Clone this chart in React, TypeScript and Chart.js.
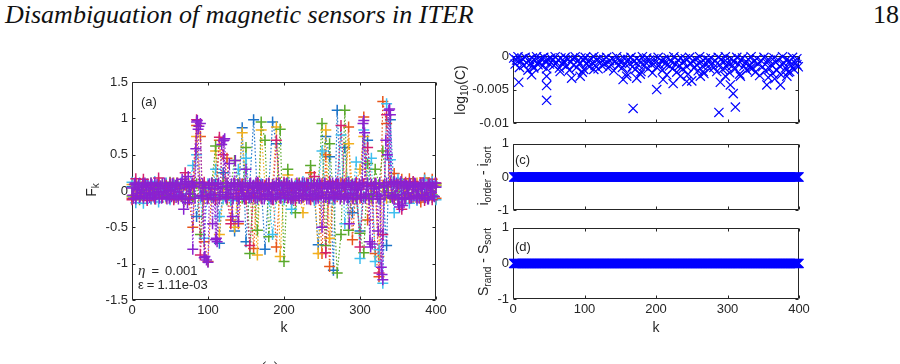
import React, { useEffect, useRef } from "react";
import { Chart, registerables } from "chart.js";

Chart.register(...registerables);

// ---------- panel (a): F_k for each run ----------
// the six lower runs are sampled every 5 in k, the two purple runs every 2 (even / odd k)
const kGrid = Array.from({ length: 81 }, (_, i) => i * 5);
const kEven = Array.from({ length: 201 }, (_, i) => i * 2);
const kOdd = Array.from({ length: 200 }, (_, i) => 1 + i * 2);

const fBlue = [
  0.06, -0.09, 0.11, -0.05, 0.08, -0.11, 0.04, 0.1, -0.07, 0.03,
  -0.1, 0.07, 0.05, -0.08, 0.11, -0.04, 0.09, -0.35, 0.06, -0.07,
  0.08, -0.06, 0.1, -0.72, 0.25, 0.05, -0.09, -0.55, -0.11, 0.87,
  -0.7, 0.08, 0.98, -0.06, 0.09, -0.8, 0.05, 0.95, 0.65, -0.07,
  0.1, -0.05, 0.07, -0.1, 0.04, 0.09, -0.06, 0.11, -0.08, -0.74,
  0.06, 0.75, 0.47, -1.09, 1.11, -0.05, 0.6, -0.09, -0.3, -0.1,
  -0.55, -0.08, 0.7, -0.06, 0.1, -0.11, 0.04, -0.75, 0.98, -0.07,
  0.11, -0.05, 0.09, -0.1, 0.06, -0.08, 0.1, -0.04, 0.08, -0.09,
  0.07,
];
const fOrange = [
  -0.1, 0.07, -0.05, 0.12, -0.08, 0.04, -0.11, 0.09, -0.06, 0.1,
  0.05, -0.09, 0.11, -0.07, 0.08, -0.12, -0.5, 0.9, 0.75, -0.7,
  -0.97, 0.08, -0.1, 0.7, -0.05, 0.45, -0.4, 0.1, -0.45, 0.09,
  -0.11, 0.06, -0.79, 0.1, -0.06, 0.08, -0.1, 0.05, -0.77, 0.11,
  -0.08, 0.07, -0.12, 0.05, 0.1, -0.09, 0.06, 0.25, -0.11, 0.08,
  -0.86, 0.5, -1.04, 0.07, -0.08, 0.11, -0.06, 0.88, -0.67, 0.09,
  -0.1, 1.02, -0.4, 0.07, -0.86, -1.18, 1.23, 0.93, -0.09, 0.24,
  -0.12, 0.16, -0.07, 0.17, -0.1, 0.06, -0.15, 0.18, -0.08, 0.16,
  -0.1,
];
const fYellow = [
  0.09, -0.06, 0.1, -0.11, 0.05, 0.08, -0.09, 0.12, -0.04, -0.1,
  0.07, 0.11, -0.08, 0.06, -0.12, 0.1, 0.04, 0.75, 0.09, -0.11,
  0.06, -0.1, 0.55, -0.6, -0.06, 0.11, -0.09, -0.5, 0.07, 0.8,
  -0.08, 0.1, -0.05, -0.88, 0.84, 0.07, -0.1, 0.06, 0.88, -0.9,
  0.08, 0.22, -0.07, 0.1, -0.09, -0.3, 0.05, -0.11, 0.09, -0.86,
  0.07, 0.84, -0.65, 0.06, 0.11, -0.08, 0.09, 0.65, 0.05, 0.1,
  0.3, 0.75, 0.07, -0.11, 0.1, -0.9, 0.08, -0.1, 0.12, -0.07,
  0.09, -0.11, 0.06, 0.1, -0.08, 0.11, -0.05, -0.09, 0.1, 0.07,
  0.08,
];
const fGreen = [
  -0.07, 0.1, -0.12, 0.06, -0.09, 0.11, 0.05, -0.08, 0.1, -0.06,
  0.12, -0.1, 0.07, 0.09, -0.11, 0.06, -0.08, 0.1, -0.6, 0.08,
  -0.09, 0.11, 0.62, -0.07, 0.1, -0.12, 0.06, 0.42, 0.09, -0.1,
  0.6, -0.86, 0.07, -0.54, 0.95, 0.7, -0.63, 0.09, -0.1, 0.85,
  -0.97, 0.3, -0.08, -0.3, 0.11, -0.07, 0.08, 0.35, -0.1, 0.07,
  0.93, -0.75, 0.65, -0.09, -1.13, -0.6, 1.11, -0.54, 0.1, -0.08,
  -0.58, -0.85, 0.38, -0.07, 0.3, 0.09, 0.55, 0.06, -0.09, 0.12,
  -0.06, 0.1, -0.11, 0.08, 0.12, -0.09, 0.07, -0.1, 0.11, -0.05,
  0.1,
];
const fCyan = [
  0.12, -0.16, 0.08, -0.17, 0.1, -0.07, 0.13, -0.15, 0.06, 0.11,
  -0.12, 0.09, -0.06, 0.12, -0.1, 0.07, 0.35, 0.5, -0.09, -0.65,
  0.1, -0.08, 0.3, -0.35, -0.11, 0.07, -0.13, 0.09, 0.3, -0.06,
  0.45, -0.1, 0.08, -0.12, 0.1, 0.06, -0.11, -0.6, -0.07, 0.09,
  -0.12, 0.11, -0.25, 0.08, -0.1, 0.13, -0.06, 0.1, -0.13, 0.07,
  0.55, -0.09, 0.11, -0.12, 0.08, 0.77, -0.45, 0.13, -0.07, 0.4,
  -0.93, 0.84, 0.1, 0.45, -0.97, -0.81, -1.27, 1.2, 0.43, -0.3,
  0.16, -0.12, 0.1, -0.17, 0.12, -0.13, 0.08, 0.15, -0.1, 0.13,
  -0.12,
];
const fMagenta = [
  -0.12, 0.17, -0.08, 0.16, -0.13, 0.07, -0.1, 0.18, -0.09, 0.08,
  0.11, -0.12, 0.09, -0.07, 0.25, -0.11, 0.1, 0.98, -0.88, 0.12,
  -0.1, 0.08, -0.12, 0.74, 0.5, -0.09, -0.45, 0.11, -0.07, 0.1,
  -0.11, -0.75, -0.08, 0.12, -0.1, 0.07, 0.11, -0.12, 0.7, -0.09,
  0.12, -0.1, 0.07, -0.13, 0.09, -0.06, 0.11, -0.12, 0.2, -0.08,
  0.1, -0.85, 0.13, -0.07, 0.09, 0.9, 0.08, 0.11, -0.1, 0.12,
  -0.77, 0.1, 0.6, 0.08, 0.11, -1.13, -0.6, 1.05, 0.12, -0.11,
  0.09, -0.25, 0.12, -0.1, 0.13, -0.08, 0.11, -0.13, 0.1, -0.12,
  0.11,
];
const fPurpleOdd = [
  -0.06, 0.09, -0.11, 0.02, 0.1, -0.07, 0.05, -0.1, 0.11, -0.03,
  0.08, -0.09, 0.11, -0.05, 0.03, -0.11, 0.09, -0.01, 0.07, -0.1,
  -0.02, 0.11, -0.08, 0.05, -0.1, 0.01, 0.1, -0.06, 0.08, 0.11,
  -0.11, 0.03, -0.07, -0.1, 0.09, 0.13, -0.16, 0.06, -0.04, 0.11,
  0.07, -0.1, 0.95, 0.85, 0.12, -0.06, 0.1, -0.92, 0.05, -0.11,
  0.08, -0.04, 0.11, -0.09, 0.03, -0.65, 0.09, -0.11, 0.06, -0.02,
  0.7, -0.08, 0.11, -0.05, 0.02, 0.1, -0.1, 0.07, -0.03, 0.09,
  -0.11, 0.06, 0.01, -0.08, 0.11, -0.06, 0.04, 0.1, -0.09, 0.07,
  -0.03, 0.11, -0.1, 0.05, 0.08, -0.11, 0.02, -0.07, 0.1, -0.05,
  0.04, -0.11, 0.09, 0.06, -0.08, 0.01, 0.11, -0.1, 0.07, -0.04,
  -0.09, 0.1, -0.02, 0.08, -0.11, 0.05, 0.03, -0.08, 0.11, -0.06,
  0.07, -0.1, 0.01, 0.11, -0.05, 0.09, -0.11, 0.04, -0.07, 0.1,
  -0.04, 0.08, -0.1, 0.11, -0.06, 0.03, 0.1, -0.09, 0.06, -0.11,
  0.09, -0.02, 0.07, -0.1, 0.11, -0.05, 0.04, -0.08, 0.1, -0.11,
  0.05, -0.09, 0.11, -0.03, 0.08, -0.11, 0.07, -0.06, 0.02, 0.1,
  -0.07, 0.11, 0.97, -0.1, 0.06, -0.04, -0.7, 0.09, -0.11, 0.03,
  0.1, -0.08, 0.05, -0.11, -1.15, 0.08, -0.06, 0.11, -0.02, 1.13,
  0.09, -0.1, 0.13, -0.05, 0.07, -0.18, 0.11, -0.09, 0.04, -0.11,
  0.08, -0.03, 0.11, -0.1, 0.06, -0.07, 0.1, -0.11, 0.02, 0.09,
  -0.06, 0.11, -0.09, 0.04, -0.11, 0.08, -0.02, 0.1, -0.07, 0.11,
];
const fPurpleEven = [
  0.04, -0.1, 0.11, -0.03, 0.07, -0.09, 0.01, 0.1, -0.06, 0.08,
  -0.11, 0.05, -0.02, 0.09, -0.07, 0.11, -0.05, 0.03, -0.1, 0.07,
  0.1, -0.04, 0.06, -0.11, 0.02, 0.09, -0.08, 0.11, -0.01, -0.09,
  0.07, -0.06, 0.1, 0.16, -0.25, -0.11, 0.05, 0.2, -0.1, 0.08,
  -0.8, 0.06, 0.58, 0.97, 0.89, 0.93, -0.08, 0.04, -0.9, -0.95,
  -0.98, 0.1, -0.06, -0.45, 0.09, -0.67, -0.7, 0.11, -0.05, 0.64,
  0.69, 0.72, -0.1, 0.07, 0.38, -0.04, -0.35, 0.11, 0.42, -0.08,
  -0.42, 0.1, -0.03, 0.07, -0.11, 0.3, 0.05, -0.09, 0.11, -0.02,
  0.08, -0.1, 0.04, 0.11, -0.07, 0.02, 0.09, -0.11, 0.06, -0.04,
  0.1, -0.08, 0.03, -0.11, 0.07, 0.11, -0.05, 0.08, -0.1, 0.01,
  0.09, -0.06, 0.11, -0.09, 0.04, 0.1, -0.11, 0.06, -0.03, 0.08,
  -0.1, 0.05, 0.11, -0.07, 0.02, -0.11, 0.09, -0.04, 0.1, -0.08,
  0.06, -0.11, 0.1, -0.02, 0.08, -0.5, -0.09, 0.11, -0.05, 0.07,
  -0.1, 0.04, 0.11, -0.08, 0.09, -0.03, 0.1, -0.11, 0.05, 0.08,
  -0.07, 0.11, -0.1, -0.45, 0.02, 0.09, -0.06, 0.1, -0.11, 0.04,
  0.08, -0.09, 0.93, 0.8, -0.05, 0.11, -0.1, -0.77, -0.73, 0.06,
  0.1, -0.04, -0.55, 0.11, -1.05, -1.22, 0.07, 0.7, 0.5, 1.11,
  1.05, -0.08, 0.1, -0.06, 0.11, -0.1, -0.22, 0.13, -0.2, 0.09,
  -0.11, 0.07, -0.03, 0.1, -0.09, 0.05, 0.11, -0.07, 0.02, -0.1,
  0.08, -0.05, 0.11, -0.09, 0.06, -0.11, 0.1, -0.02, 0.07, -0.08,
  0.05,
];

// Chart.js paints dataset 0 last, so the purple runs come first to sit on top
const fRuns = [
  { k: kEven, values: fPurpleEven, color: "#8a22d0" },
  { k: kOdd, values: fPurpleOdd, color: "#8a22d0" },
  { k: kGrid, values: fMagenta, color: "#d4206f" },
  { k: kGrid, values: fCyan, color: "#3fbfef" },
  { k: kGrid, values: fGreen, color: "#5aa92c" },
  { k: kGrid, values: fYellow, color: "#f2b01e" },
  { k: kGrid, values: fOrange, color: "#e8561a" },
  { k: kGrid, values: fBlue, color: "#1d74c9" },
];

// ---------- panel (b): log10(C) ----------
const kBand = Array.from({ length: 200 }, (_, i) => 1 + 2 * i);
const logCBand = [
  -0.0003, -0.0012, -0.0006, -0.0001, -0.0017, -0.0008, -0.0004, -0.0014, -0.0002, -0.001,
  -0.0021, -0.0005, -0.0011, -0.0003, -0.0016, -0.0007, -0.0001, -0.0013, -0.0009, -0.0004,
  -0.0015, -0.0002, -0.0008, -0.0019, -0.0005, -0.0012, -0.0003, -0.0007, -0.0014, -0.0001,
  -0.001, -0.0006, -0.0018, -0.0003, -0.0012, -0.0008, -0.0002, -0.0015, -0.0005, -0.0021,
  -0.0009, -0.0004, -0.0013, -0.0001, -0.0017, -0.0007, -0.0011, -0.0003, -0.0024, -0.0006,
  -0.0002, -0.0012, -0.0008, -0.0016, -0.0004, -0.001, -0.0001, -0.0014, -0.0006, -0.0019,
  -0.0003, -0.0009, -0.0015, -0.0005, -0.0011, -0.0002, -0.0018, -0.0007, -0.0013, -0.0004,
  -0.0022, -0.0008, -0.0001, -0.0014, -0.0006, -0.001, -0.0017, -0.0003, -0.0012, -0.0026,
  -0.0005, -0.0011, -0.0002, -0.0016, -0.0008, -0.002, -0.0004, -0.0013, -0.0007, -0.0023,
  -0.0001, -0.0015, -0.0009, -0.0003, -0.0019, -0.0006, -0.0012, -0.0025, -0.0004, -0.001,
  -0.0017, -0.0002, -0.0013, -0.0007, -0.0021, -0.0005, -0.0011, -0.0028, -0.0003, -0.0015,
  -0.0008, -0.0019, -0.0001, -0.0012, -0.0024, -0.0006, -0.0014, -0.0003, -0.002, -0.0009,
  -0.0004, -0.0016, -0.0027, -0.0002, -0.0011, -0.0007, -0.0018, -0.0005, -0.0013, -0.0022,
  -0.0001, -0.0009, -0.0015, -0.0026, -0.0004, -0.0012, -0.0006, -0.0019, -0.0003, -0.001,
  -0.0017, -0.0007, -0.0023, -0.0002, -0.0013, -0.0005, -0.002, -0.0009, -0.0001, -0.0016,
  -0.0011, -0.0025, -0.0004, -0.0014, -0.0008, -0.0019, -0.0002, -0.0012, -0.0027, -0.0006,
  -0.0003, -0.0015, -0.001, -0.0021, -0.0005, -0.0013, -0.0001, -0.0018, -0.0008, -0.0024,
  -0.0004, -0.0012, -0.0029, -0.0007, -0.0016, -0.0002, -0.0022, -0.001, -0.0005, -0.0019,
  -0.0013, -0.0026, -0.0003, -0.0009, -0.0021, -0.0006, -0.0015, -0.0028, -0.0001, -0.0011,
  -0.0018, -0.0005, -0.0024, -0.0008, -0.0014, -0.0002, -0.002, -0.0011, -0.0004, -0.0016,
];
const kLow = [
  8, 26, 29, 47, 47, 47, 66, 82, 94, 99, 113, 154, 159, 168, 173, 178, 201, 210, 224, 234,
  243, 250, 262, 266, 288, 290, 297, 304, 308, 311, 318, 332, 355, 357, 366, 374, 383, 387, 397,
];
const logCLow = [
  -0.0039, -0.0028, -0.0018, -0.003, -0.0044, -0.0066, -0.0023, -0.0033, -0.003, -0.002,
  -0.002, -0.0035, -0.003, -0.0078, -0.0033, -0.0027, -0.005, -0.0035, -0.0041, -0.003,
  -0.0038, -0.0037, -0.003, -0.0023, -0.0084, -0.0039, -0.003, -0.0043, -0.0056, -0.0076,
  -0.003, -0.0018, -0.0043, -0.0032, -0.0034, -0.0043, -0.003, -0.0023, -0.0013,
];

// ---------- panels (c), (d): differences, identically zero ----------
const kAll = Array.from({ length: 400 }, (_, i) => i + 1);
const orderDiff = kAll.map(() => 0);
const sortDiff = kAll.map(() => 0);

const kTickStep = 100;
const AXIS = "#262626";
const SANS = '"Liberation Sans", Arial, Helvetica, sans-serif';
const SERIF = '"Liberation Serif", "DejaVu Serif", serif';
const TICK = 3;

const framePlugin = {
  id: "frame",
  beforeDatasetsDraw(chart: any) {
    const { ctx, chartArea: a } = chart;
    const xs = chart.scales.x;
    const ys = chart.scales.y;
    const L = Math.round(a.left) + 0.5;
    const R = Math.round(a.right) - 0.5;
    const T = Math.round(a.top) + 0.5;
    const B = Math.round(a.bottom) - 0.5;
    ctx.save();
    ctx.strokeStyle = AXIS;
    ctx.lineWidth = 1;
    ctx.beginPath();
    ctx.rect(L, T, R - L, B - T);
    for (const t of xs.ticks) {
      const p = Math.round(xs.getPixelForValue(t.value)) + 0.5;
      ctx.moveTo(p, B);
      ctx.lineTo(p, B - TICK);
      ctx.moveTo(p, T);
      ctx.lineTo(p, T + TICK);
    }
    for (const t of ys.ticks) {
      const p = Math.round(ys.getPixelForValue(t.value)) + 0.5;
      ctx.moveTo(L, p);
      ctx.lineTo(L + TICK, p);
      ctx.moveTo(R, p);
      ctx.lineTo(R - TICK, p);
    }
    ctx.stroke();
    ctx.restore();
  },
};

type Plot = { L: number; T: number; R: number; B: number };
type Frame = {
  plot: Plot;
  yMin: number;
  yMax: number;
  yStep: number;
  xLabels: boolean;
  yWidth: number;
  xHeight: number;
  padTop: number;
  padRight: number;
};

function canvasBox(f: Frame) {
  return {
    x: f.plot.L - f.yWidth,
    y: f.plot.T - f.padTop,
    w: f.plot.R - f.plot.L + f.yWidth + f.padRight,
    h: f.plot.B - f.plot.T + f.padTop + f.xHeight,
  };
}

// plain tick text: 1, 0.5, -0.005, -0.01
const plainTick = (v: number | string) => String(+Number(v).toFixed(6));

function makeOptions(f: Frame): any {
  const tickFont = { family: SANS, size: 13 };
  return {
    responsive: false,
    animation: false,
    devicePixelRatio: 1,
    events: [],
    layout: { padding: { left: 0, top: f.padTop, right: f.padRight, bottom: 0 } },
    plugins: { legend: { display: false }, tooltip: { enabled: false } },
    scales: {
      x: {
        type: "linear",
        min: 0,
        max: 400,
        grid: { display: false, drawTicks: false },
        border: { display: false },
        ticks: {
          stepSize: kTickStep,
          display: f.xLabels,
          font: tickFont,
          color: AXIS,
          padding: 3,
          maxRotation: 0,
          autoSkip: false,
          callback: plainTick,
        },
        afterFit: (s: any) => {
          s.height = f.xHeight;
        },
      },
      y: {
        type: "linear",
        min: f.yMin,
        max: f.yMax,
        grid: { display: false, drawTicks: false },
        border: { display: false },
        ticks: {
          stepSize: f.yStep,
          font: tickFont,
          color: AXIS,
          padding: 4,
          autoSkip: false,
          callback: plainTick,
        },
        afterFit: (s: any) => {
          s.width = f.yWidth;
        },
      },
    },
  };
}

function Panel({ frame, datasets }: { frame: Frame; datasets: any[] }) {
  const ref = useRef<HTMLCanvasElement>(null);
  const box = canvasBox(frame);
  useEffect(() => {
    const chart = new Chart(ref.current as HTMLCanvasElement, {
      type: "scatter",
      data: { datasets },
      options: makeOptions(frame),
      plugins: [framePlugin],
    } as any);
    return () => chart.destroy();
  }, []);
  return (
    <canvas
      ref={ref}
      width={box.w}
      height={box.h}
      style={{ position: "absolute", left: box.x, top: box.y, width: box.w, height: box.h }}
    />
  );
}

const frameA: Frame = {
  plot: { L: 132, T: 82, R: 436, B: 300 },
  yMin: -1.5, yMax: 1.5, yStep: 0.5, xLabels: true,
  yWidth: 50, xHeight: 24, padTop: 12, padRight: 14,
};
const frameB: Frame = {
  plot: { L: 513, T: 56, R: 799, B: 125 },
  yMin: -0.01, yMax: 0, yStep: 0.005, xLabels: false,
  yWidth: 60, xHeight: 10, padTop: 12, padRight: 14,
};
const frameC: Frame = {
  plot: { L: 513, T: 142, R: 799, B: 212 },
  yMin: -1, yMax: 1, yStep: 1, xLabels: false,
  yWidth: 60, xHeight: 10, padTop: 10, padRight: 14,
};
const frameD: Frame = {
  plot: { L: 513, T: 226, R: 799, B: 299 },
  yMin: -1, yMax: 1, yStep: 1, xLabels: true,
  yWidth: 60, xHeight: 24, padTop: 10, padRight: 14,
};

const BLUE = "#0000ff";

function xMarks(xs: number[], ys: number[]) {
  return {
    data: xs.map((x, i) => ({ x, y: ys[i] })),
    showLine: false,
    pointStyle: "crossRot",
    pointRadius: 6.5,
    pointBorderWidth: 1.2,
    pointBorderColor: BLUE,
    pointBackgroundColor: BLUE,
    clip: false,
  };
}

const datasetsA = fRuns.map((run) => ({
  data: run.k.map((k, i) => ({ x: k, y: run.values[i] })),
  showLine: true,
  borderColor: run.color,
  borderWidth: 1.2,
  borderDash: [1.5, 2],
  pointStyle: "cross",
  pointRadius: 5.5,
  pointBorderWidth: 1.5,
  pointBorderColor: run.color,
  pointBackgroundColor: run.color,
  clip: false,
}));
const datasetsB = [xMarks(kBand, logCBand), xMarks(kLow, logCLow)];
const datasetsC = [xMarks(kAll, orderDiff)];
const datasetsD = [xMarks(kAll, sortDiff)];

const txt: React.CSSProperties = {
  position: "absolute",
  fontFamily: SANS,
  color: AXIS,
  whiteSpace: "nowrap",
  lineHeight: 1,
};

function VLabel({ cx, cy, children }: { cx: number; cy: number; children: React.ReactNode }) {
  return (
    <div
      style={{
        ...txt,
        left: cx,
        top: cy,
        fontSize: 14,
        transform: "translate(-50%, -50%) rotate(-90deg)",
      }}
    >
      {children}
    </div>
  );
}

const sub: React.CSSProperties = { fontSize: "0.72em", verticalAlign: "-0.3em", lineHeight: 1 };

export default function App() {
  return (
    <div
      style={{
        position: "fixed",
        left: 0,
        top: 0,
        width: 900,
        height: 364,
        background: "#fff",
        overflow: "hidden",
      }}
    >
      <div
        style={{
          position: "absolute",
          left: 5,
          top: 2,
          fontFamily: SERIF,
          fontStyle: "italic",
          fontSize: 26,
          lineHeight: 1,
          color: "#111",
          whiteSpace: "nowrap",
        }}
      >
        Disambiguation of magnetic sensors in ITER
      </div>
      <div
        style={{
          position: "absolute",
          left: 873,
          top: 2,
          fontFamily: SERIF,
          fontSize: 26,
          lineHeight: 1,
          color: "#111",
        }}
      >
        18
      </div>

      <Panel frame={frameA} datasets={datasetsA} />
      <Panel frame={frameB} datasets={datasetsB} />
      <Panel frame={frameC} datasets={datasetsC} />
      <Panel frame={frameD} datasets={datasetsD} />

      {/* panel (a) annotations */}
      <div style={{ ...txt, left: 141, top: 95, fontSize: 13 }}>(a)</div>
      <div style={{ ...txt, left: 138, top: 263, fontSize: 13 }}>
        <span style={{ fontFamily: SERIF, fontStyle: "italic", fontSize: 15 }}>η</span>
        <span style={{ marginLeft: 6 }}>=</span>
        <span style={{ marginLeft: 6 }}>0.001</span>
      </div>
      <div style={{ ...txt, left: 138, top: 278, fontSize: 13 }}>
        ε<span style={{ marginLeft: 3 }}>=</span>
        <span style={{ marginLeft: 3 }}>1.11e-03</span>
      </div>
      <VLabel cx={93} cy={190}>
        F<sub style={sub}>k</sub>
      </VLabel>
      <div style={{ ...txt, left: 284, top: 327, fontSize: 14, transform: "translate(-50%, -50%)" }}>k</div>

      {/* right column labels */}
      <VLabel cx={462} cy={90}>
        log<sub style={sub}>10</sub>(C)
      </VLabel>
      <VLabel cx={485} cy={176}>
        i<sub style={sub}>order</sub> - i<sub style={sub}>sort</sub>
      </VLabel>
      <VLabel cx={485} cy={262}>
        S<sub style={sub}>rand</sub> - S<sub style={sub}>sort</sub>
      </VLabel>
      <div style={{ ...txt, left: 515, top: 153, fontSize: 13 }}>(c)</div>
      <div style={{ ...txt, left: 515, top: 240, fontSize: 13 }}>(d)</div>
      <div style={{ ...txt, left: 656, top: 327, fontSize: 14, transform: "translate(-50%, -50%)" }}>k</div>

      <div
        style={{
          position: "absolute",
          left: 261,
          top: 360,
          fontFamily: SERIF,
          fontSize: 16,
          lineHeight: 1,
          color: "#111",
        }}
      >
        (a)
      </div>
    </div>
  );
}
